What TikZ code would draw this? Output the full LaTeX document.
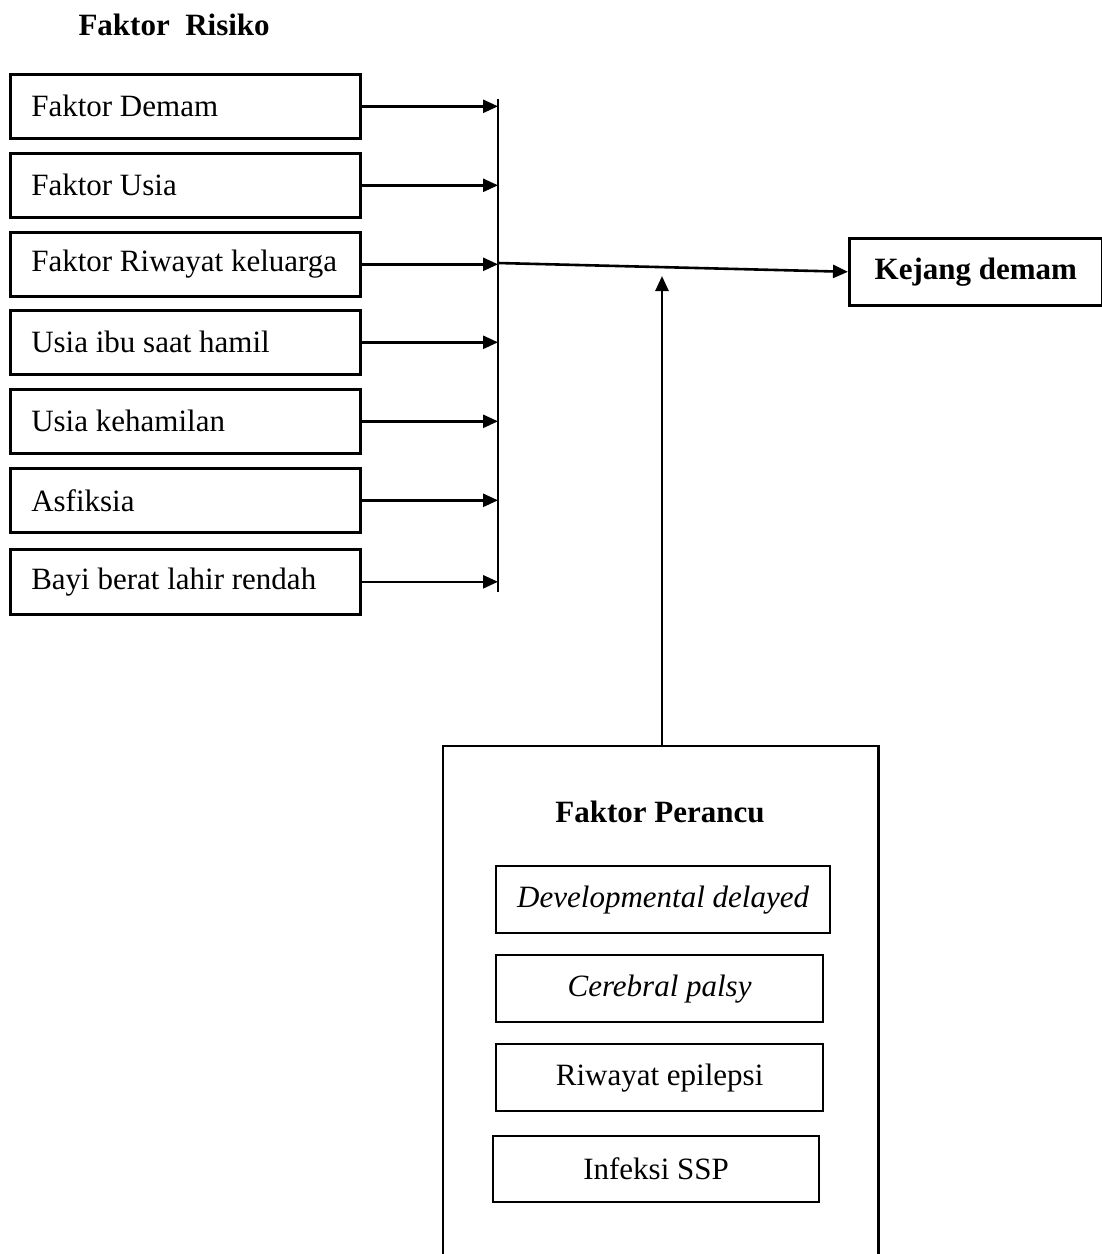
\documentclass[tikz,border=0pt]{standalone}
\usepackage{fontspec}
\setmainfont{Liberation Serif}
\usetikzlibrary{arrows.meta}
\newcommand{\lefttext}[1]{\makebox[308pt][l]{#1}}
\begin{document}
\begin{tikzpicture}[x=1pt,y=-1pt,
  lbox/.style={draw,line width=2.6pt,anchor=north west,minimum width=350pt,minimum height=64pt,
    inner xsep=21pt,inner ysep=0pt,font=\fontsize{31}{37}\selectfont},
  cbox/.style={draw,line width=2.2pt,anchor=north west,minimum height=67pt,inner sep=0pt,
    font=\fontsize{31}{37}\selectfont},
  conn/.style={line width=2.6pt,-{Triangle[length=15pt,width=13pt]}},
  ttl/.style={font=\fontsize{31}{37}\selectfont\bfseries}]
\useasboundingbox (0,0) rectangle (1102,1254);
\node[ttl,anchor=west] (title) at (75,25) {Faktor\ \ Risiko};
\node[lbox] (b1) at (9,73) {\lefttext{Faktor Demam}};
\node[lbox] (b2) at (9,152) {\lefttext{Faktor Usia}};
\node[lbox] (b3) at (9,231) {\lefttext{Faktor Riwayat keluarga}};
\node[lbox] (b4) at (9,309) {\lefttext{Usia ibu saat hamil}};
\node[lbox] (b5) at (9,388) {\lefttext{Usia kehamilan}};
\node[lbox] (b6) at (9,467) {\lefttext{Asfiksia}};
\node[lbox,minimum height=65pt] (b7) at (9,548) {\lefttext{Bayi berat lahir rendah}};
\coordinate (bartop) at (498,99);
\coordinate (barbot) at (498,592);
\draw[line width=2.6pt] (bartop) -- (barbot);
\foreach \i in {1,...,7} {\draw[conn] (b\i.east) -- (b\i.east -| bartop);}
\node[cbox,line width=2.6pt,minimum width=253pt,font=\fontsize{31}{37}\selectfont\bfseries] (kd) at (848,237) {Kejang demam};
\coordinate (junc) at (498,263);
\draw[conn] (junc) -- (kd.west);
\node[anchor=north west,minimum width=435pt,minimum height=520pt,inner sep=0pt] (per) at (443,746) {};
\draw[line width=2.6pt] (per.south west) -- (per.north west) -- (per.north east) -- (per.south east);
\coordinate (uptip) at (662,276);
\draw[conn] (per.north west -| uptip) -- (uptip);
\node[ttl] (pt) at (660,812) {Faktor Perancu};
\node[cbox,minimum width=334pt] (c1) at (495,865) {\itshape Developmental delayed};
\node[cbox,minimum width=327pt] (c2) at (495,954) {\itshape Cerebral palsy};
\node[cbox,minimum width=327pt] (c3) at (495,1043) {Riwayat epilepsi};
\node[cbox,minimum width=326pt,minimum height=66pt] (c4) at (492,1135) {Infeksi SSP};
\end{tikzpicture}
\end{document}
